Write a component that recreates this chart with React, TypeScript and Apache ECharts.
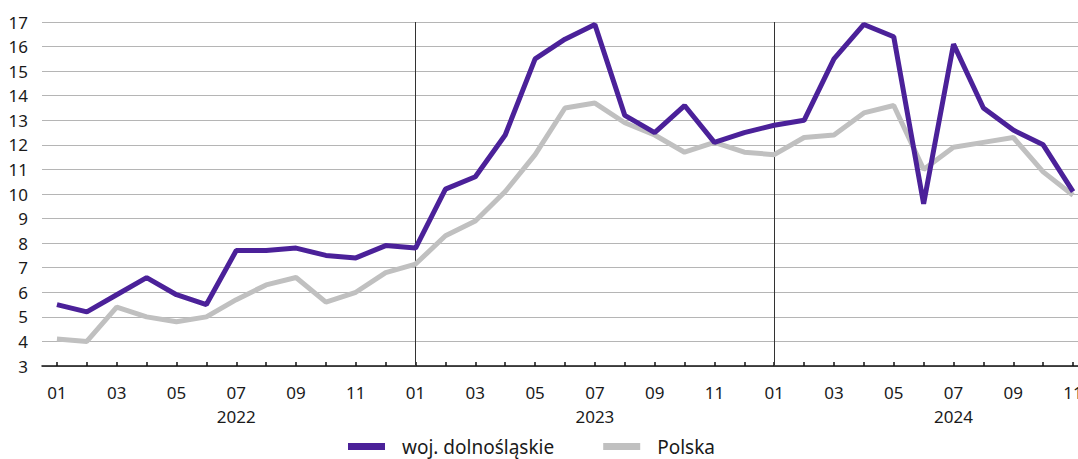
import React, { useEffect, useRef } from "react";
import * as echarts from "echarts";

const years = ["2022", "2023", "2024"];
const months = ["01", "02", "03", "04", "05", "06", "07", "08", "09", "10", "11", "12"];
const categories: string[] = [];
const categoryYears: string[] = [];
years.forEach((y) => {
  months.forEach((m) => {
    if (y === "2024" && m === "12") return;
    categories.push(m);
    categoryYears.push(y);
  });
});

const dolnoslaskie = [
  5.5, 5.2, 5.9, 6.6, 5.9, 5.5, 7.7, 7.7, 7.8, 7.5, 7.4, 7.9,
  7.8, 10.2, 10.7, 12.4, 15.5, 16.3, 16.9, 13.2, 12.5, 13.6, 12.1, 12.5,
  12.8, 13.0, 15.5, 16.9, 16.4, 9.6, 16.1, 13.5, 12.6, 12.0, 10.1,
];
const polska = [
  4.1, 4.0, 5.4, 5.0, 4.8, 5.0, 5.7, 6.3, 6.6, 5.6, 6.0, 6.8,
  7.15, 8.3, 8.9, 10.1, 11.6, 13.5, 13.7, 12.9, 12.4, 11.7, 12.1, 11.7,
  11.6, 12.3, 12.4, 13.3, 13.6, 11.0, 11.9, 12.1, 12.3, 10.9, 9.95,
];
const yearStartIndices = [12, 24];

const FONT = "'Noto Sans', sans-serif";
const CHART_W = 1088;

export default function App() {
  const ref = useRef<HTMLDivElement>(null);
  useEffect(() => {
    if (!ref.current) return;
    const chart = echarts.init(ref.current, undefined, { renderer: "svg" });
    chart.setOption({
      animation: false,
      grid: { left: 42, right: 0, top: 22, bottom: 93, containLabel: false },
      legend: {
        top: 437,
        left: 348,
        padding: 0,
        itemWidth: 37,
        itemHeight: 7,
        itemGap: 49,
        icon: "rect",
        textStyle: { fontFamily: FONT, fontSize: 19, color: "#1a1a1a", padding: [0, 0, 0, 12] },
        data: ["woj. dolnośląskie", "Polska"],
      },
      xAxis: {
        type: "category",
        data: categories,
        boundaryGap: true,
        axisLine: { show: true, lineStyle: { color: "#111", width: 1.5 } },
        axisTick: { show: true, alignWithLabel: true, interval: 0, inside: true, length: 4, lineStyle: { color: "#111", width: 1.5 } },
        axisLabel: {
          interval: 1,
          margin: 14,
          fontFamily: FONT,
          fontSize: 17,
          color: "#1a1a1a",
          lineHeight: 24,
          formatter: (value: string, index: number) =>
            value === "07" ? `07\n${categoryYears[index]}` : value,
        },
        splitLine: { show: false },
      },
      yAxis: {
        type: "value",
        min: 3,
        max: 17,
        interval: 1,
        axisLine: { show: false },
        axisTick: { show: false },
        axisLabel: { margin: 14, fontFamily: FONT, fontSize: 17, color: "#1a1a1a" },
        splitLine: { lineStyle: { color: "#b5b5b5", width: 1.2 } },
      },
      series: [
        {
          name: "Polska",
          type: "line",
          data: polska,
          symbol: "none",
          lineStyle: { color: "#c0c0c0", width: 5 },
          itemStyle: { color: "#c0c0c0" },
          z: 2,
        },
        {
          name: "woj. dolnośląskie",
          type: "line",
          data: dolnoslaskie,
          symbol: "none",
          lineStyle: { color: "#4b2199", width: 5 },
          itemStyle: { color: "#4b2199" },
          z: 3,
          markLine: {
            silent: true,
            symbol: "none",
            label: { show: false },
            lineStyle: { color: "#333", width: 1, type: "solid" },
            data: yearStartIndices.map((i) => ({ xAxis: i })),
            z: 1,
          },
        },
      ],
    });
    return () => chart.dispose();
  }, []);
  return (
    <div style={{ position: "fixed", left: 0, top: 0, width: 1078, height: 459, overflow: "hidden", background: "#fff" }}>
      <div ref={ref} style={{ width: CHART_W, height: 459 }} />
    </div>
  );
}
